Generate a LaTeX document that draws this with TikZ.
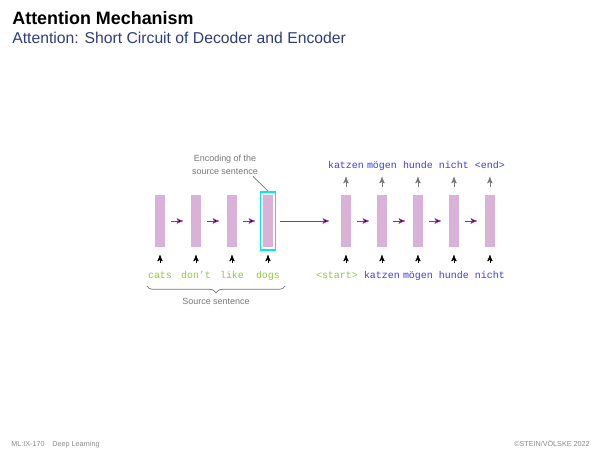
\documentclass[tikz,border=0pt]{standalone}
\usepackage{fontspec}
\setmainfont{Liberation Sans}
\setmonofont{Liberation Mono}
\usetikzlibrary{arrows,positioning,decorations.pathreplacing}
\definecolor{cellpink}{HTML}{D9B1D9}
\definecolor{flowpurple}{HTML}{9A2B9A}
\definecolor{srcgreen}{HTML}{8CC83C}
\definecolor{tgtblue}{HTML}{3A3AF5}
\definecolor{subblue}{HTML}{2E3C80}
\definecolor{notegray}{HTML}{777777}
\definecolor{footgray}{HTML}{8A8A8A}
\definecolor{enccyan}{HTML}{00E8F0}

\begin{document}
\begin{tikzpicture}[x=0.02cm,y=0.02cm,>=stealth',thin,node distance=0.52cm,
	cell/.style={fill=cellpink,minimum width=0.2cm,minimum height=1.04cm,inner sep=0,outer sep=0},
	encframe/.style={draw=enccyan,line width=1.1pt,minimum width=0.3cm,minimum height=1.16cm,inner sep=0},
	srcword/.style={font=\fontsize{5.67}{6}\selectfont\ttfamily,text=srcgreen,inner sep=0,text height=4pt,text depth=1.2pt},
	tgtword/.style={srcword,text=tgtblue},
	flow/.style={->,draw=flowpurple,shorten <=0.12cm,shorten >=0.16cm},
	inarrow/.style={->,black,shorten <=0.16cm,shorten >=0.16cm},
	outarrow/.style={->,notegray,shorten <=0.16cm,shorten >=0.12cm},
	note/.style={font=\fontsize{5.1}{7.4}\selectfont,text=notegray,align=center,inner sep=1pt},
	foot/.style={font=\fontsize{4.1}{5}\selectfont,text=footgray,inner sep=0}]
	\useasboundingbox (0,0) rectangle (600,450);

	% heading
	\node[anchor=base west,inner sep=0,font=\fontsize{10.2}{12}\selectfont\bfseries] (title) at (12,425) {Attention Mechanism};
	\node[anchor=base west,inner sep=0,font=\fontsize{8.95}{11}\selectfont,text=subblue] (subtitle) at (12,406.7) {Attention: Short Circuit of Decoder and Encoder};

	% encoder
	\node[cell] (E1) at (160,229) {};
	\node[cell] (E2) [right=of E1] {};
	\node[cell] (E3) [right=of E2] {};
	\node[cell] (E4) [right=of E3] {};
	\node[encframe] (enc) at (E4) {};

	% decoder
	\node[cell] (D1) [right=1.36cm of E4] {};
	\node[cell] (D2) [right=of D1] {};
	\node[cell] (D3) [right=of D2] {};
	\node[cell] (D4) [right=of D3] {};
	\node[cell] (D5) [right=of D4] {};

	\path[flow] (E1) edge (E2) (E2) edge (E3) (E3) edge (E4);
	\path[flow,shorten <=0.08cm,shorten >=0.24cm] (enc) edge (D1);
	\path[flow] (D1) edge (D2) (D2) edge (D3) (D3) edge (D4) (D4) edge (D5);

	% source words
	\node[srcword] (x1) [below=0.48cm of E1] {cats};
	\node[srcword] (x2) [below=0.48cm of E2] {don’t};
	\node[srcword] (x3) [below=0.48cm of E3] {like};
	\node[srcword] (x4) [below=0.48cm of E4] {dogs};
	\foreach \i in {1,...,4}
		\path[inarrow] (x\i) edge (E\i);

	% decoder inputs
	\node[srcword] (y1) [below=0.48cm of D1,xshift=-0.18cm] {<start>};
	\node[tgtword] (y2) [below=0.48cm of D2] {katzen};
	\node[tgtword] (y3) [below=0.48cm of D3] {mögen};
	\node[tgtword] (y4) [below=0.48cm of D4] {hunde};
	\node[tgtword] (y5) [below=0.48cm of D5] {nicht};
	\path[inarrow] (D1 |- y1.north) edge (D1);
	\foreach \i in {2,...,5}
		\path[inarrow] (y\i) edge (D\i);

	% decoder outputs
	\node[tgtword] (o1) [above=0.48cm of D1] {katzen};
	\node[tgtword] (o2) [above=0.48cm of D2] {mögen};
	\node[tgtword] (o3) [above=0.48cm of D3] {hunde};
	\node[tgtword] (o4) [above=0.48cm of D4] {nicht};
	\node[tgtword] (o5) [above=0.48cm of D5] {<end>};
	\foreach \i in {1,...,5}
		\path[outarrow] (D\i) edge (o\i);

	% annotations
	\node[note] (encnote) at (225,285.5) {Encoding of the\\source sentence};
	\draw[notegray] ([xshift=-0.14cm]encnote.south east) -- (enc.north);
	\draw[notegray,decorate,decoration={brace,mirror,amplitude=0.14cm}]
		([xshift=-0.02cm,yshift=-0.1cm]x1.south west) -- ([xshift=0.1cm,yshift=-0.1cm]x4.south east)
		node[note,midway,below=0.2cm] (srcnote) {Source sentence};

	% footer
	\node[foot,anchor=base west] (lecture) at (11,3) {ML:IX-170};
	\node[foot,anchor=base west] (course) at (52,3) {Deep Learning};
	\node[foot,anchor=base east] (copy) at (590,3) {©STEIN/VÖLSKE 2022};
\end{tikzpicture}
\end{document}
